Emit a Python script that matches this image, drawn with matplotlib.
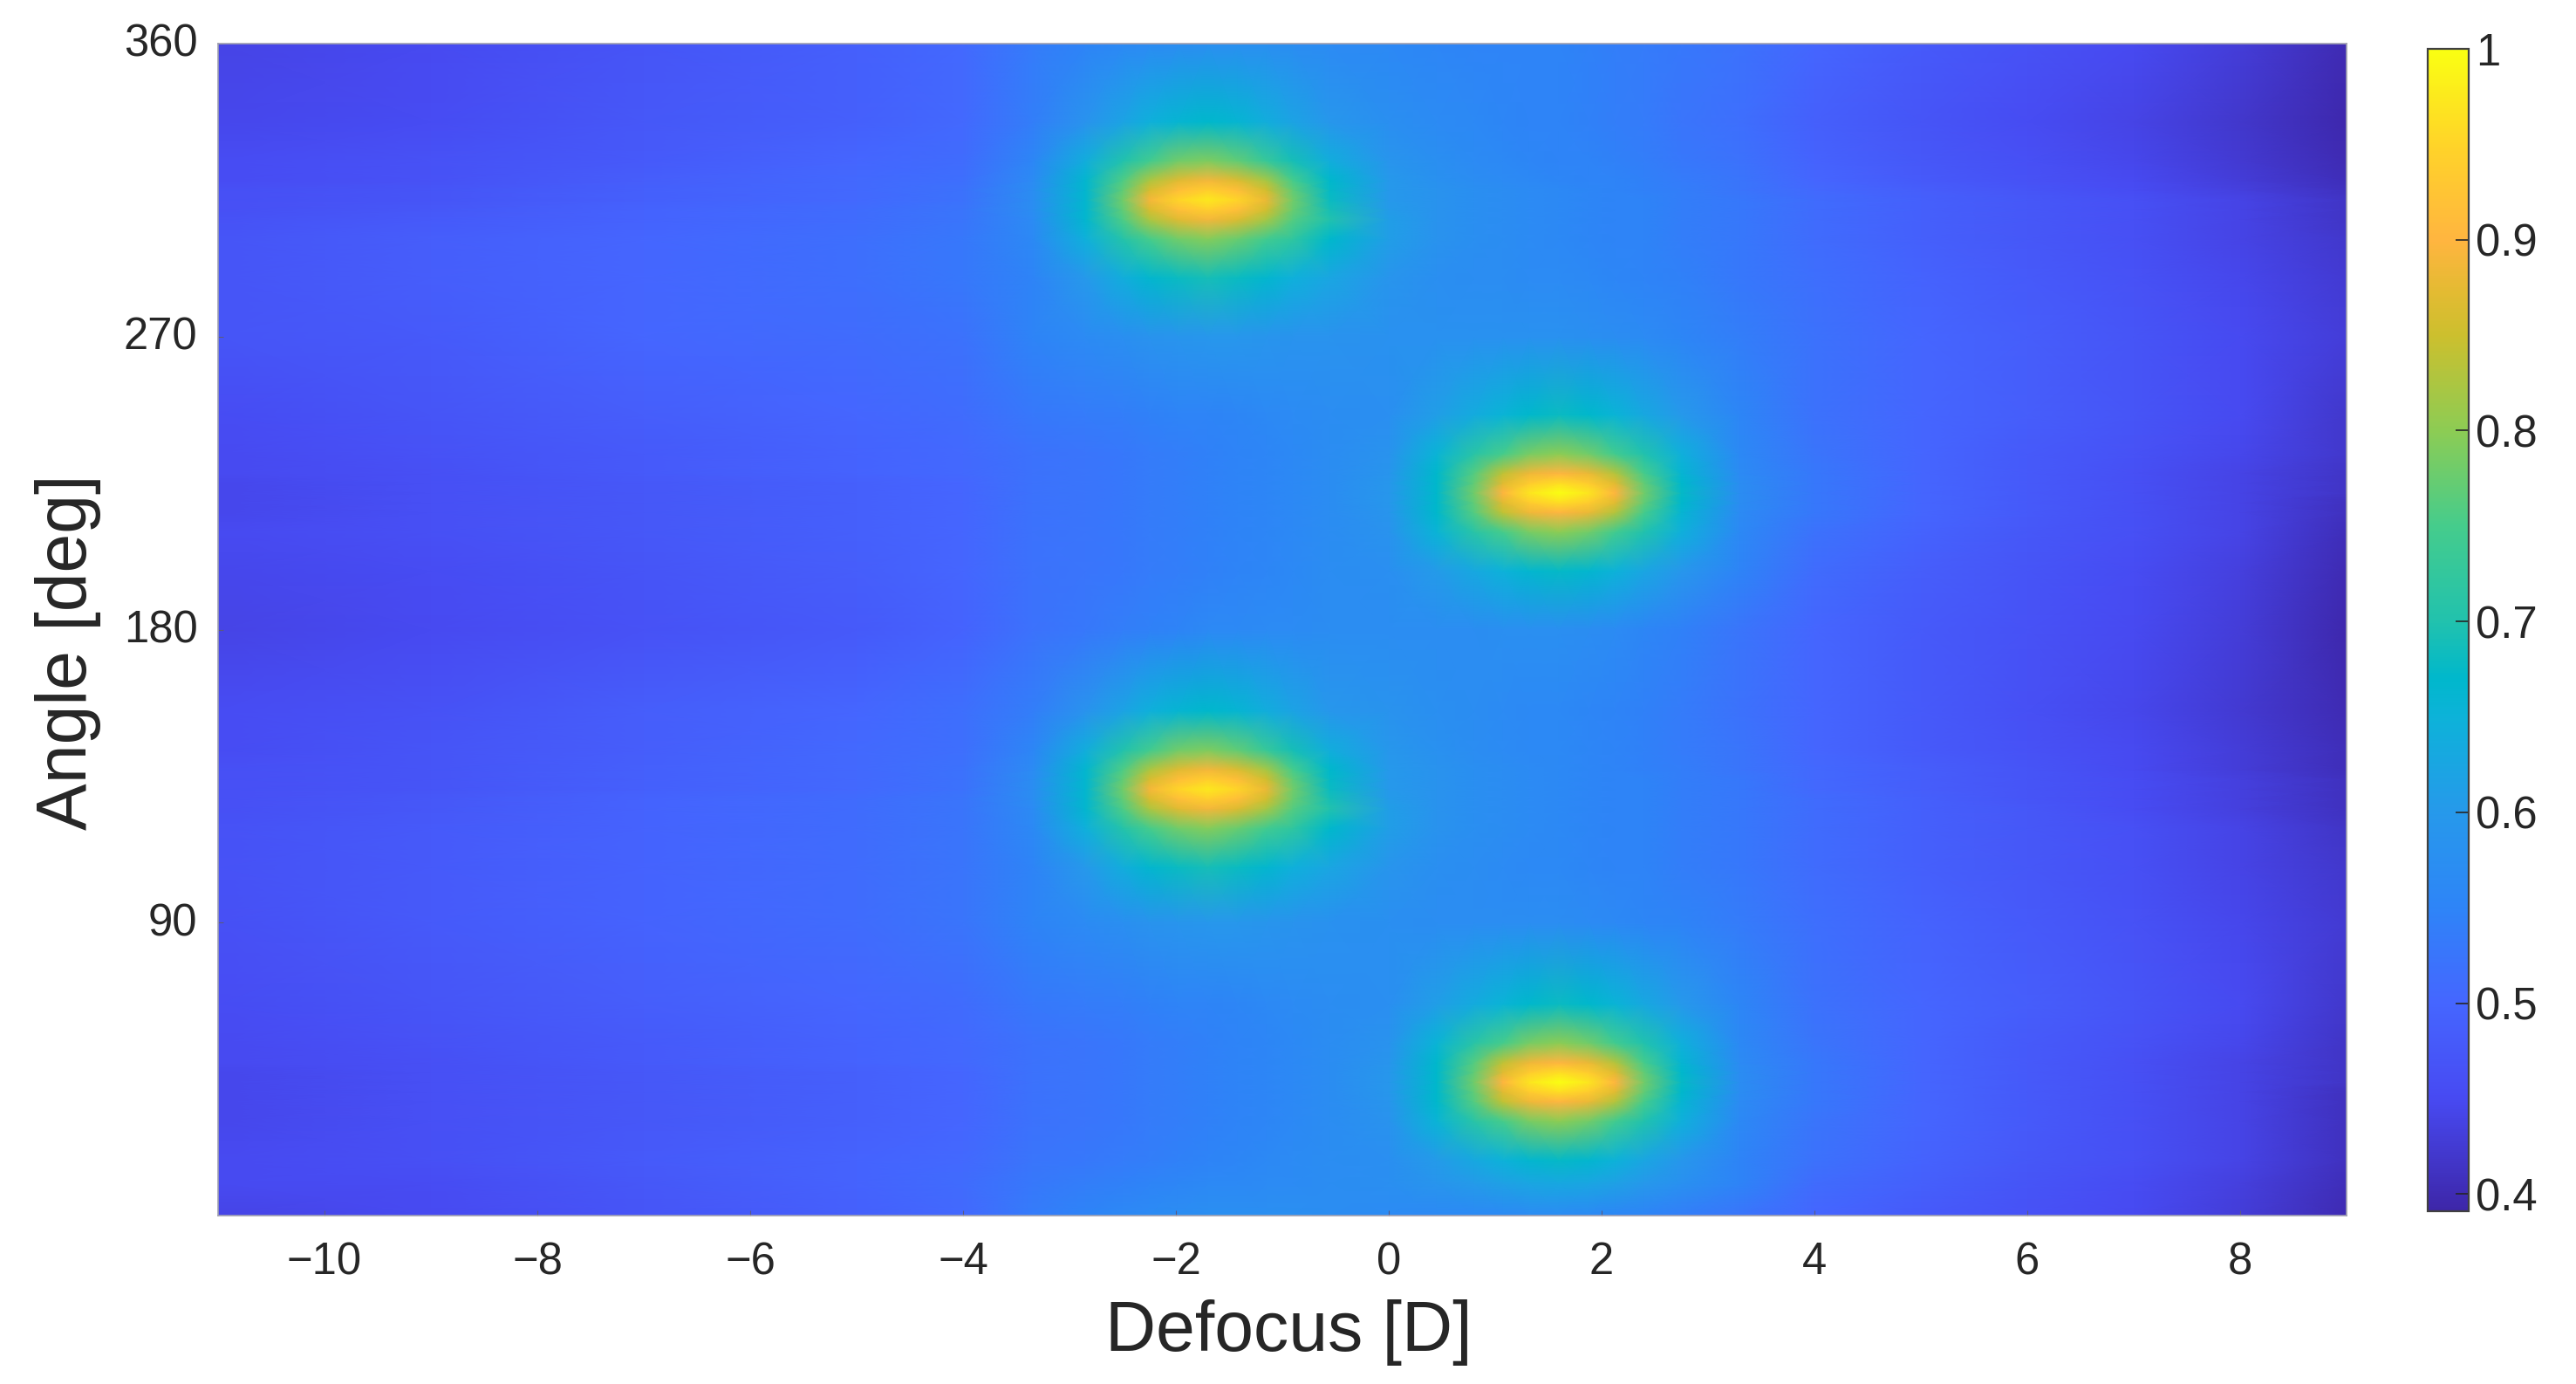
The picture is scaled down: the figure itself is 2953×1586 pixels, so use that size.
import matplotlib
matplotlib.use("Agg")
import matplotlib.pyplot as plt
import numpy as np
from matplotlib.colors import LinearSegmentedColormap
from matplotlib.transforms import ScaledTranslation

plt.rcParams['font.family'] = ['Liberation Sans', 'DejaVu Sans']

# values, finer around the four peaks
defocus = [-11, -9, -7, -5, -4,
           -3.35, -2.85, -2.5, -2.25, -1.98, -1.7, -1.42, -1.15, -0.9, -0.55,
           0, 0.45, 0.8, 1.07, 1.32, 1.6, 1.88, 2.13, 2.4, 2.75, 3.3,
           4, 5, 6, 7, 8, 9]
angle = [0, 10, 17, 29, 35, 38, 41, 44, 47, 53, 65, 90, 107, 119, 125, 128, 131,
         134, 137, 143, 155, 180, 198, 210, 216, 219, 222, 225, 228, 234, 246,
         270, 288, 300, 306, 309, 312, 315, 318, 324, 336, 360]
strehl = [
    [.44, .45, .47, .49, .505, .535, .55, .56, .565, .57, .575, .575, .575, .575, .57, .565, .56, .56, .56, .565, .565, .56, .555, .55, .54, .525, .50, .48, .465, .45, .43, .40],
    [.45, .455, .475, .495, .51, .53, .54, .545, .55, .555, .56, .56, .565, .565, .57, .575, .59, .605, .615, .625, .63, .625, .615, .60, .58, .55, .51, .49, .47, .455, .435, .405],
    [.45, .46, .48, .495, .505, .525, .53, .535, .54, .545, .55, .555, .56, .565, .57, .575, .605, .63, .65, .665, .675, .665, .65, .625, .595, .55, .52, .495, .475, .46, .44, .41],
    [.445, .46, .475, .49, .50, .52, .525, .53, .535, .54, .545, .55, .555, .56, .57, .585, .655, .71, .75, .785, .80, .78, .745, .70, .645, .56, .525, .50, .48, .46, .44, .41],
    [.445, .46, .475, .49, .50, .52, .525, .53, .535, .54, .545, .55, .555, .56, .57, .59, .67, .76, .84, .885, .90, .88, .83, .75, .66, .565, .53, .50, .48, .46, .44, .41],
    [.445, .46, .475, .49, .50, .52, .525, .53, .535, .54, .545, .55, .555, .56, .57, .595, .67, .77, .87, .935, .96, .935, .87, .77, .67, .57, .53, .50, .48, .46, .44, .41],
    [.445, .46, .475, .49, .50, .52, .525, .53, .535, .54, .545, .55, .555, .56, .57, .595, .67, .78, .90, .97, 1.0, .97, .90, .78, .675, .57, .53, .50, .48, .46, .44, .415],
    [.445, .46, .475, .49, .50, .52, .525, .53, .535, .54, .545, .55, .555, .56, .57, .595, .67, .77, .87, .935, .96, .935, .87, .77, .67, .57, .53, .50, .48, .46, .44, .415],
    [.45, .46, .48, .495, .505, .52, .525, .53, .535, .54, .545, .55, .555, .56, .57, .59, .67, .76, .84, .885, .90, .88, .83, .75, .66, .565, .53, .50, .48, .46, .44, .415],
    [.45, .465, .48, .495, .505, .52, .525, .53, .535, .54, .545, .55, .555, .56, .57, .585, .655, .71, .75, .785, .80, .78, .745, .70, .645, .56, .525, .50, .48, .465, .445, .415],
    [.455, .47, .485, .50, .51, .53, .535, .54, .545, .55, .55, .555, .56, .565, .57, .575, .61, .635, .655, .67, .68, .67, .655, .63, .60, .555, .52, .50, .485, .47, .45, .42],
    [.46, .48, .495, .51, .525, .55, .565, .575, .585, .59, .595, .595, .59, .585, .58, .575, .57, .57, .57, .57, .57, .565, .56, .555, .55, .535, .515, .495, .48, .465, .445, .425],
    [.465, .48, .495, .51, .525, .55, .60, .64, .665, .68, .69, .68, .665, .645, .625, .59, .575, .57, .565, .56, .56, .555, .55, .55, .54, .53, .51, .49, .475, .46, .44, .42],
    [.465, .48, .495, .51, .525, .56, .645, .705, .75, .78, .795, .775, .745, .72, .67, .61, .585, .575, .57, .565, .56, .555, .55, .55, .54, .53, .51, .49, .475, .46, .44, .415],
    [.46, .475, .495, .51, .525, .565, .665, .755, .825, .87, .89, .865, .82, .76, .70, .61, .585, .575, .57, .565, .56, .555, .55, .55, .54, .53, .51, .49, .475, .455, .435, .41],
    [.46, .475, .495, .51, .525, .57, .665, .77, .86, .915, .94, .915, .855, .775, .69, .605, .585, .575, .57, .565, .56, .555, .55, .55, .54, .53, .51, .49, .47, .455, .435, .41],
    [.46, .47, .49, .505, .52, .57, .665, .78, .89, .95, .975, .95, .88, .78, .68, .60, .585, .575, .57, .565, .56, .555, .55, .55, .54, .53, .505, .485, .47, .455, .435, .41],
    [.46, .47, .49, .505, .52, .57, .665, .77, .86, .915, .94, .915, .855, .77, .675, .60, .585, .575, .57, .565, .56, .555, .55, .55, .54, .53, .505, .485, .47, .455, .435, .41],
    [.46, .47, .49, .505, .52, .565, .665, .755, .825, .87, .89, .865, .82, .75, .67, .60, .585, .575, .57, .565, .56, .555, .55, .545, .54, .525, .505, .485, .47, .45, .43, .405],
    [.455, .47, .485, .505, .515, .555, .64, .70, .745, .78, .79, .77, .73, .69, .64, .595, .58, .57, .565, .56, .56, .555, .55, .545, .535, .525, .50, .48, .465, .45, .43, .405],
    [.455, .465, .485, .50, .515, .54, .585, .62, .645, .66, .67, .66, .64, .62, .595, .585, .575, .57, .565, .56, .56, .555, .55, .545, .535, .52, .50, .48, .46, .445, .425, .40],
    [.44, .45, .465, .48, .495, .52, .53, .54, .545, .55, .56, .56, .565, .565, .57, .57, .57, .57, .575, .575, .575, .57, .565, .555, .545, .525, .50, .48, .465, .45, .43, .395],
    [.445, .455, .47, .485, .50, .52, .525, .53, .535, .54, .545, .55, .555, .56, .57, .575, .605, .63, .65, .665, .675, .665, .65, .625, .595, .55, .51, .485, .47, .455, .435, .40],
    [.45, .46, .475, .49, .50, .52, .525, .53, .535, .54, .545, .55, .555, .56, .57, .585, .655, .71, .75, .785, .80, .78, .745, .70, .645, .56, .52, .495, .475, .46, .44, .405],
    [.445, .46, .475, .49, .50, .52, .525, .53, .535, .54, .545, .55, .555, .56, .57, .59, .67, .76, .84, .885, .90, .88, .83, .75, .66, .565, .53, .50, .48, .46, .44, .41],
    [.445, .46, .475, .49, .50, .52, .525, .53, .535, .54, .545, .55, .555, .56, .57, .595, .67, .77, .87, .935, .96, .935, .87, .77, .67, .57, .53, .50, .48, .46, .44, .41],
    [.445, .46, .475, .49, .50, .52, .525, .53, .535, .54, .545, .55, .555, .56, .57, .595, .67, .78, .90, .97, 1.0, .97, .90, .78, .675, .57, .53, .50, .48, .46, .44, .415],
    [.445, .46, .475, .49, .50, .52, .525, .53, .535, .54, .545, .55, .555, .56, .57, .595, .67, .77, .87, .935, .96, .935, .87, .77, .67, .57, .53, .50, .48, .46, .44, .415],
    [.45, .46, .48, .495, .505, .52, .525, .53, .535, .54, .545, .55, .555, .56, .57, .59, .67, .76, .84, .885, .90, .88, .83, .75, .66, .565, .53, .50, .48, .46, .44, .415],
    [.45, .465, .48, .495, .505, .52, .525, .53, .535, .54, .545, .55, .555, .56, .57, .585, .655, .71, .75, .785, .80, .78, .745, .70, .645, .56, .525, .50, .48, .465, .445, .42],
    [.455, .47, .485, .50, .51, .53, .535, .54, .545, .55, .55, .555, .56, .565, .57, .575, .61, .635, .655, .67, .68, .67, .655, .63, .60, .555, .52, .50, .485, .47, .45, .42],
    [.47, .48, .50, .51, .52, .55, .565, .575, .585, .59, .595, .595, .59, .585, .585, .58, .58, .58, .58, .58, .58, .575, .57, .565, .555, .54, .52, .50, .485, .47, .45, .43],
    [.47, .485, .50, .515, .53, .55, .60, .64, .665, .68, .69, .68, .665, .645, .625, .59, .575, .57, .57, .565, .565, .56, .555, .55, .545, .53, .515, .495, .48, .465, .445, .425],
    [.47, .485, .50, .515, .53, .56, .645, .705, .75, .78, .795, .775, .745, .72, .67, .61, .585, .575, .57, .565, .56, .555, .55, .55, .54, .53, .51, .49, .475, .46, .44, .42],
    [.465, .48, .495, .51, .525, .565, .665, .755, .825, .87, .89, .865, .82, .76, .70, .61, .585, .575, .57, .565, .56, .555, .55, .55, .54, .53, .51, .49, .475, .46, .44, .415],
    [.46, .475, .495, .51, .525, .57, .665, .77, .86, .915, .94, .915, .855, .775, .69, .605, .585, .575, .57, .565, .56, .555, .55, .55, .54, .53, .51, .49, .475, .46, .44, .415],
    [.46, .47, .49, .505, .52, .57, .665, .78, .89, .95, .975, .95, .88, .78, .68, .60, .585, .575, .57, .565, .56, .555, .55, .55, .54, .53, .51, .49, .475, .46, .44, .415],
    [.46, .47, .49, .505, .52, .57, .665, .77, .86, .915, .94, .915, .855, .77, .675, .60, .585, .575, .57, .565, .56, .555, .55, .545, .54, .525, .505, .485, .47, .455, .435, .41],
    [.455, .465, .485, .505, .515, .565, .665, .755, .825, .87, .89, .865, .82, .75, .67, .60, .58, .57, .565, .56, .555, .55, .55, .545, .535, .525, .50, .48, .465, .45, .43, .405],
    [.455, .465, .48, .50, .51, .555, .64, .70, .745, .78, .79, .77, .73, .69, .64, .59, .575, .565, .56, .555, .55, .55, .545, .54, .53, .52, .495, .475, .46, .445, .425, .40],
    [.445, .455, .475, .49, .505, .54, .585, .62, .645, .66, .67, .66, .64, .62, .595, .575, .565, .56, .555, .55, .55, .545, .54, .535, .525, .515, .49, .47, .455, .44, .42, .395],
    [.44, .45, .47, .49, .505, .535, .55, .56, .565, .57, .575, .575, .575, .57, .565, .56, .555, .55, .55, .55, .55, .545, .54, .535, .53, .52, .50, .48, .465, .45, .43, .40],
]
x_ticks = [-10, -8, -6, -4, -2, 0, 2, 4, 6, 8]
y_ticks = [90, 180, 270, 360]
c_ticks = [0.4, 0.5, 0.6, 0.7, 0.8, 0.9, 1]
c_labels = ['0.4', '0.5', '0.6', '0.7', '0.8', '0.9', '1']

# colorbar colours, sampled by eye at these values
c_min, c_max = 0.391, 1.0
cmap_values = [0.391, 0.45, 0.5, 0.55, 0.6, 0.65, 0.67, 0.7, 0.75, 0.8, 0.85, 0.875, 0.9, 0.95, 1.0]
cmap_colors = [(0.24, 0.15, 0.66), (0.28, 0.29, 0.95), (0.27, 0.40, 1.0), (0.18, 0.52, 0.97),
               (0.15, 0.60, 0.92), (0.05, 0.70, 0.85), (0.0, 0.72, 0.80), (0.13, 0.76, 0.68),
               (0.27, 0.80, 0.55), (0.55, 0.80, 0.33), (0.80, 0.75, 0.18), (0.90, 0.73, 0.20),
               (1.0, 0.71, 0.25), (1.0, 0.83, 0.16), (0.98, 1.0, 0.07)]
cmap = LinearSegmentedColormap.from_list(
    'parula_bright',
    [((v - c_min) / (c_max - c_min), c) for v, c in zip(cmap_values, cmap_colors)], N=512)

W, H = 2953, 1586
ink = '#262626'
fig = plt.figure(figsize=(W / 100, H / 100), dpi=100)
ax = fig.add_axes([250 / W, 1 - 1393 / H, (2690 - 250) / W, (1393 - 50) / H])
mesh = ax.pcolormesh(defocus, angle, np.array(strehl), shading='gouraud',
                     cmap=cmap, vmin=c_min, vmax=c_max, rasterized=True)
ax.set_xlim(-11, 9)
ax.set_ylim(0, 360)
ax.set_xticks(x_ticks)
ax.set_yticks(y_ticks)
ax.tick_params(axis='both', direction='in', length=4, width=0.8, color='#5a5a80',
               labelsize=36.5, labelcolor=ink)
ax.tick_params(axis='x', pad=21)
ax.tick_params(axis='y', pad=17)
for s in ax.spines.values():
    s.set_color('#a0a0b0')
    s.set_linewidth(1.2)
# y labels sit a little above their tick
up = ScaledTranslation(0, 3 / 72, fig.dpi_scale_trans)
for lab in ax.get_yticklabels():
    lab.set_transform(lab.get_transform() + up)

ax.set_xlabel('Defocus [D]', fontsize=58, color=ink, va='center')
ax.xaxis.set_label_coords(0.503, -0.1)
ax.set_ylabel('Angle [deg]', fontsize=58, color=ink, va='center')
ax.yaxis.set_label_coords(-0.0705, 0.481)

cax = fig.add_axes([2783 / W, 1 - 1388 / H, (2830 - 2783) / W, (1388 - 56) / H])
cbar = fig.colorbar(mesh, cax=cax)
cbar.set_ticks(c_ticks, labels=c_labels)
cax.tick_params(axis='y', direction='in', length=11, width=1.2, color=ink,
                labelsize=36.5, labelcolor=ink, pad=6)
cbar.outline.set_edgecolor('#404040')
cbar.outline.set_linewidth(1.6)

fig.savefig('out.png', dpi=100)
